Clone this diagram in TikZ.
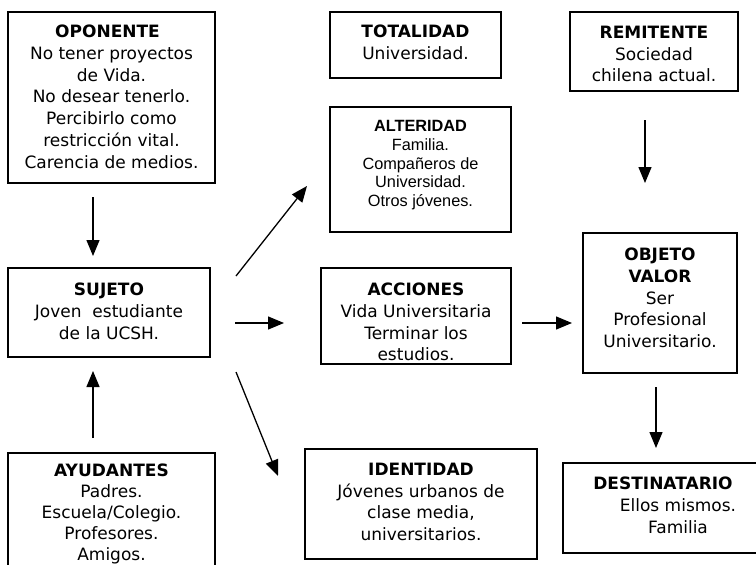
\documentclass[tikz,border=0pt]{standalone}
\usepackage{fontspec}
\setmainfont{DejaVu Sans}
\newfontfamily\arialf{Liberation Sans}
\usetikzlibrary{arrows.meta}
\tikzset{
  box/.style={draw=black, line width=1.4pt, rectangle, inner sep=0pt},
  txt/.style={align=center, inner sep=0pt, anchor=north, font=\fontsize{17}{21.7}\selectfont},
  txtar/.style={align=center, inner sep=0pt, anchor=north, font=\arialf\fontsize{16.3}{18.8}\selectfont},
  arr/.style={line width=1.3pt, -{Triangle[length=16pt,width=13pt]}}
}
\begin{document}
\begin{tikzpicture}[x=1pt,y=-1pt]
\useasboundingbox (0,0) rectangle (756,565);
\clip (0,0) rectangle (756,565);
% boxes
\node[box, minimum width=207pt, minimum height=171pt] (op)  at (111.5,97.5) {};
\node[box, minimum width=171pt, minimum height=66pt]  (tot) at (415.5,45) {};
\node[box, minimum width=168pt, minimum height=79pt]  (rem) at (654,51.5) {};
\node[box, minimum width=181pt, minimum height=125pt] (alt) at (420.5,169.5) {};
\node[box, minimum width=202pt, minimum height=89pt]  (suj) at (109,312.5) {};
\node[box, minimum width=190pt, minimum height=96pt]  (acc) at (416,316) {};
\node[box, minimum width=154pt, minimum height=140pt] (obj) at (660,303) {};
\node[box, minimum width=207pt, minimum height=147pt] (ayu) at (111.5,526.5) {};
\node[box, minimum width=232pt, minimum height=110pt] (ide) at (421,504) {};
\node[box, minimum width=217pt, minimum height=90pt]  (des) at (671.5,508) {};
% texts
\node[txt] (opT) at (111.5,25) {\hspace*{-8pt}\textbf{OPONENTE}\\No tener proyectos\\de Vida.\\No desear tenerlo.\\Percibirlo como\\restricción vital.\\Carencia de medios.};
\node[txt] (totT) at (415.5,25) {\textbf{TOTALIDAD}\\Universidad.};
\node[txt] (remT) at (654,26) {\textbf{REMITENTE}\\Sociedad\\chilena actual.};
\node[txtar] (altT) at (420.5,120) {\textbf{ALTERIDAD}\\Familia.\\Compañeros de\\Universidad.\\Otros jóvenes.};
\node[txt] (sujT) at (109,283) {\textbf{SUJETO}\\Joven\ \ estudiante\\de la UCSH.};
\node[txt] (accT) at (416,283) {\textbf{ACCIONES}\\Vida Universitaria\\Terminar los\\estudios.};
\node[txt] (objT) at (660,248) {\textbf{OBJETO}\\\textbf{VALOR}\\Ser\\Profesional\\Universitario.};
\node[txt, font=\fontsize{17}{20.8}\selectfont] (ayuT) at (111.5,464) {\textbf{AYUDANTES}\\Padres.\\Escuela/Colegio.\\Profesores.\\Amigos.};
\node[txt] (ideT) at (421,463) {\textbf{IDENTIDAD}\\Jóvenes urbanos de\\clase media,\\universitarios.};
\node[txt] (desT) at (670,477) {\hspace*{-14pt}\textbf{DESTINATARIO}\\\hspace*{16pt}Ellos mismos.\\\hspace*{16pt}Familia};
% arrow end points
\coordinate (a1s) at (93,197);  \coordinate (a1e) at (93,256);
\coordinate (a2s) at (236,276); \coordinate (a2e) at (307,186);
\coordinate (a3s) at (235,323); \coordinate (a3e) at (284,323);
\coordinate (a4s) at (236,372); \coordinate (a4e) at (278,476);
\coordinate (a5s) at (93,438);  \coordinate (a5e) at (93,371);
\coordinate (a6s) at (522,323); \coordinate (a6e) at (572,323);
\coordinate (a7s) at (645,120); \coordinate (a7e) at (645,183);
\coordinate (a8s) at (656,387); \coordinate (a8e) at (656,448);
\draw[arr] (a1s) -- (a1e);
\draw[arr] (a2s) -- (a2e);
\draw[arr] (a3s) -- (a3e);
\draw[arr] (a4s) -- (a4e);
\draw[arr] (a5s) -- (a5e);
\draw[arr] (a6s) -- (a6e);
\draw[arr] (a7s) -- (a7e);
\draw[arr] (a8s) -- (a8e);
\end{tikzpicture}
\end{document}
